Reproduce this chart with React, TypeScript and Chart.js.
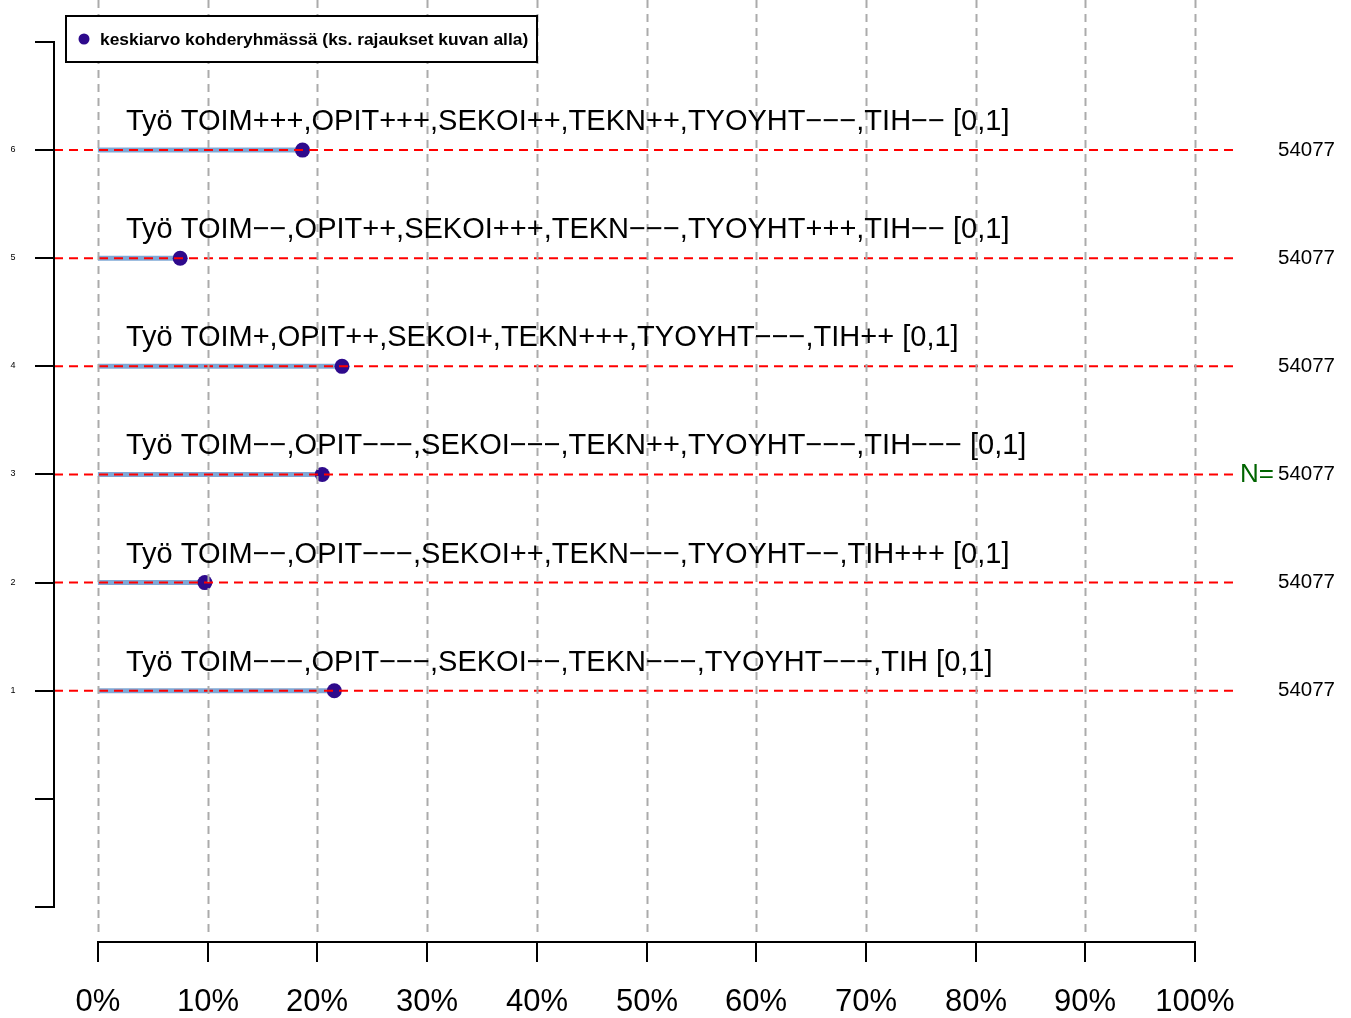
import React, { useEffect, useRef } from "react";
import { Chart, registerables } from "chart.js";

Chart.register(...registerables);

// ---- data ----
const ROWS = [6, 5, 4, 3, 2, 1];
const ROW_LABELS = [
  "Työ TOIM+++,OPIT+++,SEKOI++,TEKN++,TYOYHT−−−,TIH−− [0,1]",
  "Työ TOIM−−,OPIT++,SEKOI+++,TEKN−−−,TYOYHT+++,TIH−− [0,1]",
  "Työ TOIM+,OPIT++,SEKOI+,TEKN+++,TYOYHT−−−,TIH++ [0,1]",
  "Työ TOIM−−,OPIT−−−,SEKOI−−−,TEKN++,TYOYHT−−−,TIH−−− [0,1]",
  "Työ TOIM−−,OPIT−−−,SEKOI++,TEKN−−−,TYOYHT−−,TIH+++ [0,1]",
  "Työ TOIM−−−,OPIT−−−,SEKOI−−,TEKN−−−,TYOYHT−−−,TIH [0,1]",
];
const MEANS = [18.65, 7.5, 22.25, 20.45, 9.75, 21.55];
const N_VALUES = ["54077", "54077", "54077", "54077", "54077", "54077"];
const N_LABEL_ROW = 3;
const X_TICKS = [0, 10, 20, 30, 40, 50, 60, 70, 80, 90, 100];
const Y_TICKS = [-1, 0, 1, 2, 3, 4, 5, 6, 7];
const Y_TICK_LABELS = ["", "", "1", "2", "3", "4", "5", "6", ""];
const LEGEND_TEXT = "keskiarvo kohderyhmässä (ks. rajaukset kuvan alla)";

const FONT = "'Liberation Sans', Arial, sans-serif";
const POINT_COLOR = "#2E0A8C";
const BAR_COLOR = "#7FA8D6";

export default function App() {
  const ref = useRef<HTMLCanvasElement | null>(null);

  useEffect(() => {
    if (!ref.current) return;

    const barSets = ROWS.map((r, i) => ({
      type: "line" as const,
      data: [
        { x: 0, y: r },
        { x: MEANS[i], y: r },
      ],
      borderColor: BAR_COLOR,
      borderWidth: 5,
      pointRadius: 0,
      order: 3,
    }));
    const redSets = ROWS.map((r) => ({
      type: "line" as const,
      data: [
        { x: -4, y: r },
        { x: 104, y: r },
      ],
      borderColor: "#FF0000",
      borderWidth: 2,
      borderDash: [9, 6],
      pointRadius: 0,
      order: 1,
    }));
    const pointSet = {
      type: "scatter" as const,
      data: ROWS.map((r, i) => ({ x: MEANS[i], y: r })),
      backgroundColor: POINT_COLOR,
      borderWidth: 0,
      pointRadius: 7.5,
      order: 2,
    };

    const overlay = {
      id: "overlay",
      afterDatasetsDraw(chart: any) {
        const { ctx, chartArea, scales } = chart;
        const xs = scales.x;
        ctx.save();
        ctx.strokeStyle = "#ABABAB";
        ctx.lineWidth = 2;
        ctx.setLineDash([8, 6]);
        X_TICKS.forEach((t) => {
          const px = Math.round(xs.getPixelForValue(t)) + 0.5;
          ctx.beginPath();
          ctx.moveTo(px, 0);
          ctx.lineTo(px, chartArea.bottom);
          ctx.stroke();
        });
        ctx.restore();
      },
      afterDraw(chart: any) {
        const { ctx, chartArea, scales } = chart;
        const xs = scales.x;
        const ys = scales.y;
        ctx.save();
        ctx.setLineDash([]);
        ctx.strokeStyle = "#000";
        ctx.fillStyle = "#000";
        ctx.lineWidth = 2;

        // bottom axis
        const axY = 942;
        const x0 = xs.getPixelForValue(X_TICKS[0]);
        const x1 = xs.getPixelForValue(X_TICKS[X_TICKS.length - 1]);
        ctx.beginPath();
        ctx.moveTo(x0, axY);
        ctx.lineTo(x1, axY);
        ctx.stroke();
        ctx.font = `31px ${FONT}`;
        ctx.textAlign = "center";
        ctx.textBaseline = "middle";
        X_TICKS.forEach((t) => {
          const px = Math.round(xs.getPixelForValue(t));
          ctx.beginPath();
          ctx.moveTo(px, axY - 1);
          ctx.lineTo(px, 962);
          ctx.stroke();
          ctx.fillText(`${t}%`, px, 1002);
        });

        // left axis
        const axX = chartArea.left;
        ctx.beginPath();
        ctx.moveTo(axX, ys.getPixelForValue(Y_TICKS[Y_TICKS.length - 1]));
        ctx.lineTo(axX, ys.getPixelForValue(Y_TICKS[0]));
        ctx.stroke();
        ctx.font = `9px ${FONT}`;
        Y_TICKS.forEach((t, i) => {
          const py = Math.round(ys.getPixelForValue(t));
          ctx.beginPath();
          ctx.moveTo(35, py);
          ctx.lineTo(axX + 1, py);
          ctx.stroke();
          if (Y_TICK_LABELS[i]) ctx.fillText(Y_TICK_LABELS[i], 13, py);
        });

        // row labels
        ctx.textAlign = "left";
        ctx.textBaseline = "alphabetic";
        ctx.font = `29px ${FONT}`;
        ROWS.forEach((r, i) => {
          const py = ys.getPixelForValue(r);
          ctx.fillText(ROW_LABELS[i], xs.getPixelForValue(0) + 28, py - 20);
        });

        // N labels
        ctx.textBaseline = "middle";
        ctx.textAlign = "right";
        ctx.font = `20.5px ${FONT}`;
        ROWS.forEach((r, i) => {
          const py = ys.getPixelForValue(r);
          ctx.fillText(N_VALUES[i], 1335, py);
        });
        ctx.font = `26px ${FONT}`;
        ctx.fillStyle = "#006400";
        ctx.fillText("N=", 1274, ys.getPixelForValue(N_LABEL_ROW));

        // legend
        ctx.fillStyle = "#FFFFFF";
        ctx.fillRect(66, 16, 471, 46);
        ctx.strokeStyle = "#000";
        ctx.lineWidth = 2;
        ctx.strokeRect(66, 16, 471, 46);
        ctx.fillStyle = POINT_COLOR;
        ctx.beginPath();
        ctx.arc(84, 39, 5.5, 0, Math.PI * 2);
        ctx.fill();
        ctx.fillStyle = "#000";
        ctx.textAlign = "left";
        ctx.font = `bold 17.4px ${FONT}`;
        ctx.fillText(LEGEND_TEXT, 100, 40);
        ctx.restore();
      },
    };

    const chart = new Chart(ref.current, {
      type: "scatter",
      data: { datasets: [...redSets, pointSet, ...barSets] as any },
      options: {
        animation: false,
        responsive: false,
        devicePixelRatio: 1,
        layout: { autoPadding: false, padding: { left: 54, right: 112, top: 0, bottom: 83 } },
        plugins: { legend: { display: false }, tooltip: { enabled: false } },
        scales: {
          x: { type: "linear", min: -4, max: 104, display: false },
          y: { type: "linear", min: -1.259, max: 7.388, display: false },
        },
      },
      plugins: [overlay],
    });
    return () => chart.destroy();
  }, []);

  return (
    <div style={{ position: "absolute", left: 0, top: 0, width: 1351, height: 1018, background: "#fff" }}>
      <canvas ref={ref} width={1351} height={1018} style={{ display: "block" }} />
    </div>
  );
}
